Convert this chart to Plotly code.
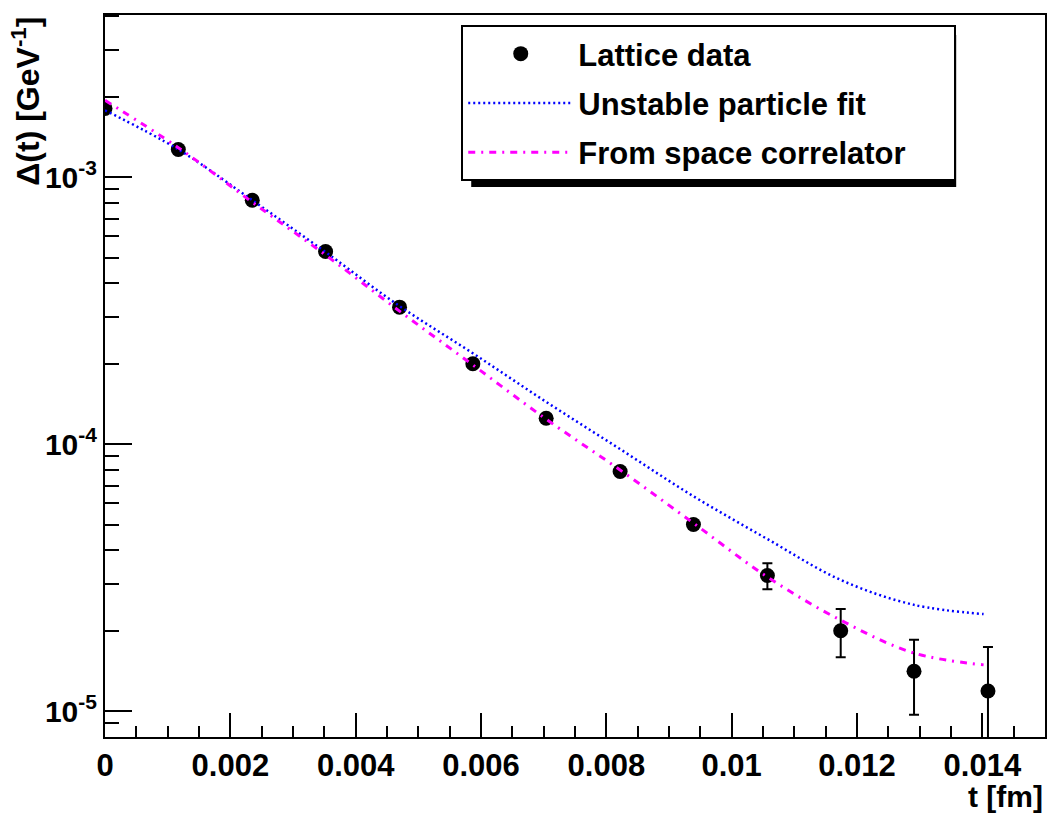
import plotly.graph_objects as go

# ---- data ----
t_data = [0.0, 0.00117, 0.00235, 0.00352, 0.0047, 0.00587, 0.00704, 0.00822,
          0.00939, 0.01057, 0.01174, 0.01291, 0.01409]
delta_data = [1.81e-3, 1.27e-3, 8.2e-4, 5.27e-4, 3.26e-4, 2.0e-4, 1.25e-4, 7.9e-5,
              5.0e-5, 3.22e-5, 2.0e-5, 1.41e-5, 1.19e-5]
delta_err = [3e-5, 2e-5, 1.2e-5, 8e-6, 5e-6, 3.5e-6, 2.5e-6, 2e-6,
             1.8e-6, 3.6e-6, 4.1e-6, 4.4e-6, 5.5e-6]

t_curve = [0.0, 0.00117, 0.00235, 0.00352, 0.0047, 0.00587, 0.00704, 0.00822,
           0.00939, 0.01057, 0.01174, 0.01291, 0.01402]
unstable_fit = [1.78e-3, 1.27e-3, 8.2e-4, 5.24e-4, 3.29e-4, 2.19e-4, 1.44e-4, 9.58e-5,
                6.38e-5, 4.41e-5, 3.10e-5, 2.50e-5, 2.31e-5]
space_corr = [1.94e-3, 1.29e-3, 8.06e-4, 5.11e-4, 3.15e-4, 1.98e-4, 1.24e-4, 8.0e-5,
              5.06e-5, 3.18e-5, 2.19e-5, 1.65e-5, 1.49e-5]

series_names = ["Lattice data", "Unstable particle fit", "From space correlator"]

y_tickvals = [1e-5, 1e-4, 1e-3]
y_ticktext = ["10<sup>-5</sup>", "10<sup>-4</sup>", "10<sup>-3</sup>"]

FONT = "Liberation Sans"
PAD = "\u00a0" * 5

# plot area in pixels
W, H = 1049, 818
L, R, T, B = 105, 2, 15, 81
PW, PH = W - L - R, H - T - B


def px_x(p):
    return (p - L) / PW


def px_y(p):
    return (H - B - p) / PH


fig = go.Figure()

fig.add_trace(go.Scatter(
    x=t_data, y=delta_data, mode="markers", name=series_names[0], legendgroup="a",
    marker=dict(color="black", size=15, symbol="circle"),
    error_y=dict(type="data", array=delta_err, color="black", thickness=2, width=5),
))
fig.add_trace(go.Scatter(
    x=t_curve, y=unstable_fit, mode="lines", name=series_names[1], legendgroup="b",
    line=dict(color="#0000ff", width=2.5, dash="2px,3px", shape="spline"),
))
fig.add_trace(go.Scatter(
    x=t_curve, y=space_corr, mode="lines", name=series_names[2] + PAD, legendgroup="c",
    line=dict(color="#ff00ff", width=3, dash="7px,6px,2px,6px", shape="spline"),
))

axis_common = dict(
    showgrid=False, zeroline=False, showline=True, linewidth=2, linecolor="black",
    mirror=True, ticks="inside", tickwidth=2, tickcolor="black",
)

fig.update_xaxes(
    range=[0, 0.015], tick0=0, dtick=0.002, ticklen=24,
    tickfont=dict(family=FONT, size=31, color="black", weight="bold"),
    minor=dict(dtick=0.0005, tick0=0, ticks="inside", ticklen=11, tickwidth=2,
               tickcolor="black", showgrid=False),
    **axis_common,
)
fig.update_yaxes(
    type="log", range=[-5.097, -2.3925], tickmode="array",
    tickvals=y_tickvals, ticktext=y_ticktext, ticklen=27,
    tickfont=dict(family=FONT, size=30, color="black", weight="bold"),
    minor=dict(dtick="D1", ticks="inside", ticklen=14, tickwidth=2,
               tickcolor="black", showgrid=False),
    **axis_common,
)

# legend shadow (ROOT style)
fig.add_shape(type="rect", xref="paper", yref="paper",
              x0=px_x(472), x1=px_x(958), y0=px_y(187), y1=px_y(35),
              fillcolor="black", line=dict(width=0), layer="above")

fig.update_layout(
    width=W, height=H,
    margin=dict(l=L, r=R, t=T, b=B),
    paper_bgcolor="white", plot_bgcolor="white",
    showlegend=True,
    legend=dict(
        x=px_x(462), y=px_y(25), xanchor="left", yanchor="top",
        bgcolor="white", bordercolor="black", borderwidth=2,
        font=dict(family=FONT, size=31, color="black", weight="bold"),
        itemwidth=105, tracegroupgap=6,
    ),
    annotations=[
        dict(text="t [fm]", xref="paper", yref="paper", x=1.0, y=px_y(778),
             xanchor="right", yanchor="top", showarrow=False,
             font=dict(family=FONT, size=30, color="black", weight="bold")),
        dict(text="Δ(t) [GeV<sup>-1</sup>]", xref="paper", yref="paper",
             x=px_x(25), y=px_y(15), xanchor="center", yanchor="top",
             textangle=-90, showarrow=False,
             font=dict(family=FONT, size=32, color="black", weight="bold")),
    ],
)

fig.write_html("out.html")
